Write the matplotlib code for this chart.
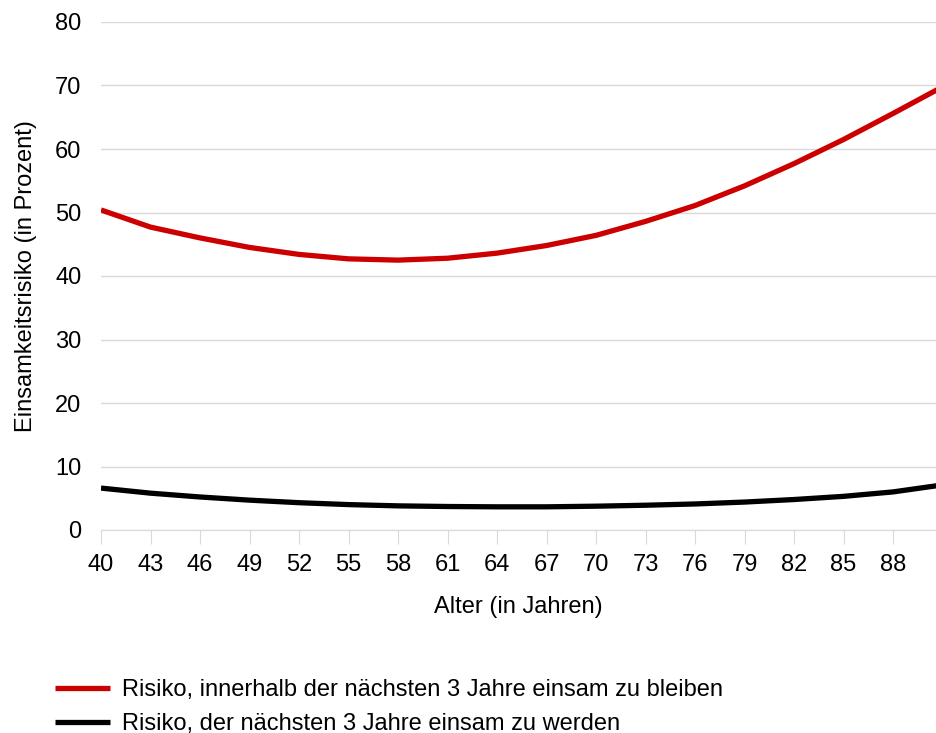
import numpy as np
import matplotlib.pyplot as plt

plt.rcParams['font.family'] = ['Liberation Sans', 'DejaVu Sans']

# Alter (in Jahren) and the two risk curves
ages = [40, 43, 46, 49, 52, 55, 58, 61, 64, 67, 70, 73, 76, 79, 82, 85, 88, 91]
risk_stay = [50.4, 47.7, 46.0, 44.5, 43.4, 42.7, 42.5, 42.8, 43.6, 44.8, 46.4,
             48.6, 51.1, 54.2, 57.7, 61.5, 65.6, 69.8]
risk_become = [6.6, 5.8, 5.2, 4.7, 4.3, 4.0, 3.8, 3.7, 3.65, 3.65, 3.75,
               3.9, 4.1, 4.4, 4.8, 5.3, 6.0, 7.1]
xticks = list(range(40, 89, 3))
yticks = list(range(0, 81, 10))

fig = plt.figure(figsize=(9.36, 7.33), dpi=100)
ax = fig.add_axes([101/936, 1 - 530/733, 1 - 101/936, (530 - 22)/733])

ax.plot(ages, risk_stay, color='#cc0000', lw=3.8, solid_capstyle='butt',
        label='Risiko, innerhalb der nächsten 3 Jahre einsam zu bleiben')
ax.plot(ages, risk_become, color='black', lw=3.8, solid_capstyle='butt',
        label='Risiko, der nächsten 3 Jahre einsam zu werden')

ax.set_xlim(40, 90.6)
ax.set_ylim(0, 80)
ax.set_xticks(xticks)
ax.set_yticks(yticks)
ax.grid(axis='y', color='#d9d9d9', lw=1)
ax.set_axisbelow(True)
for s in ['top', 'right', 'left']:
    ax.spines[s].set_visible(False)
ax.spines['bottom'].set_color('#d9d9d9')
ax.tick_params(axis='x', length=10, color='#d9d9d9', labelsize=17, pad=7)
ax.tick_params(axis='y', length=0, labelsize=17, pad=14)

ax.set_xlabel('Alter (in Jahren)', fontsize=17, labelpad=15)
ax.set_ylabel('Einsamkeitsrisiko (in Prozent)', fontsize=17, labelpad=13)

fig.legend(loc='upper left', bbox_to_anchor=(55/936, 1 - 679/733), frameon=False,
           fontsize=17, handlelength=2.33, handletextpad=0.5, labelspacing=0.52,
           borderaxespad=0, borderpad=0)

fig.savefig('out.png', dpi=100)
